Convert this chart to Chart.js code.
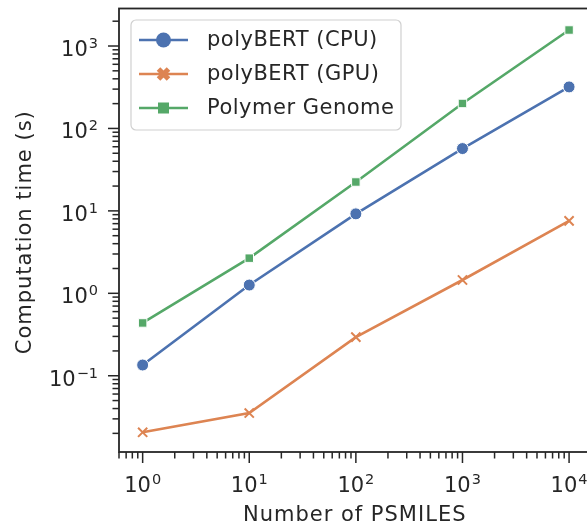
<!DOCTYPE html>
<html>
<head>
<meta charset="utf-8">
<script src="https://cdn.jsdelivr.net/npm/chart.js@4"></script>
<style>
  html, body { margin: 0; padding: 0; background: #fff; overflow: hidden; }
  #wrap { width: 587px; height: 526px; overflow: hidden; }
</style>
</head>
<body>
<div id="wrap"><canvas id="chart" width="600" height="526"></canvas></div>
<script>
// data
const numSmiles = [1, 10, 100, 1000, 10000];
const cpuTimes = [0.135, 1.26, 9.2, 57, 319];
const gpuTimes = [0.0206, 0.0353, 0.294, 1.45, 7.57];
const genomeTimes = [0.437, 2.67, 22.4, 201, 1563];
const seriesNames = ["polyBERT (CPU)", "polyBERT (GPU)", "Polymer Genome"];
const xTickExps = ["0", "1", "2", "3", "4"];
const yTickExps = ["\u22121", "0", "1", "2", "3"];
const xTitle = "Number of PSMILES";
const yTitle = "Computation time (s)";

const INK = "#262626";
const FONT = "DejaVu Sans";
const colors = ["#4c72b0", "#dd8452", "#55a868"];

function pts(ys) {
    return numSmiles.map((x, i) => ({ x: x, y: ys[i] }));
}

// =====================
// axes, ticks, labels, legend
// =====================
const framePlugin = {
    id: "frame",
    afterDatasetsDraw(chart) {
        const ctx = chart.ctx;
        const a = chart.chartArea;
        const xs = chart.scales.x;
        const ys = chart.scales.y;
        ctx.save();
        ctx.strokeStyle = INK;
        ctx.fillStyle = INK;

        // spines
        ctx.lineWidth = 1.8;
        ctx.strokeRect(a.left, a.top, a.right - a.left, a.bottom - a.top);

        // ticks (major + minor)
        ctx.lineWidth = 1.5;
        for (let k = -3; k <= 5; k++) {
            for (let m = 1; m <= 9; m++) {
                const v = m * Math.pow(10, k);
                const len = m === 1 ? 11 : 6.5;
                if (v >= xs.min && v <= xs.max) {
                    const px = xs.getPixelForValue(v);
                    ctx.beginPath();
                    ctx.moveTo(px, a.bottom);
                    ctx.lineTo(px, a.bottom + len);
                    ctx.stroke();
                }
                if (v >= ys.min && v <= ys.max) {
                    const py = ys.getPixelForValue(v);
                    ctx.beginPath();
                    ctx.moveTo(a.left, py);
                    ctx.lineTo(a.left - len, py);
                    ctx.stroke();
                }
            }
        }

        // tick labels 10^n
        ctx.letterSpacing = "0px";
        const big = "21px '" + FONT + "'";
        const small = "14.5px '" + FONT + "'";
        ctx.textBaseline = "alphabetic";
        xTickExps.forEach(e => {
            const v = Math.pow(10, parseInt(e.replace("\u2212", "-")));
            const px = xs.getPixelForValue(v);
            ctx.font = big;
            const w1 = ctx.measureText("10").width;
            ctx.font = small;
            const w2 = ctx.measureText(e).width;
            const x0 = px - (w1 + w2 + 1) / 2;
            ctx.textAlign = "left";
            ctx.font = big;
            ctx.fillText("10", x0, 492);
            ctx.font = small;
            ctx.fillText(e, x0 + w1 + 1, 484);
        });
        yTickExps.forEach(e => {
            const v = Math.pow(10, parseInt(e.replace("\u2212", "-")));
            const py = ys.getPixelForValue(v);
            ctx.font = big;
            const w1 = ctx.measureText("10").width;
            ctx.font = small;
            const w2 = ctx.measureText(e).width;
            const right = a.left - 21;
            ctx.textAlign = "left";
            ctx.font = big;
            ctx.fillText("10", right - w2 - 1 - w1, py + 10);
            ctx.font = small;
            ctx.fillText(e, right - w2, py + 2);
        });

        // axis titles
        ctx.letterSpacing = "1px";
        ctx.font = big;
        ctx.textAlign = "center";
        ctx.fillText(xTitle, (a.left + a.right) / 2, 521);
        ctx.save();
        ctx.translate(31, (a.top + a.bottom) / 2 + 2);
        ctx.rotate(-Math.PI / 2);
        ctx.fillText(yTitle, 0, 0);
        ctx.restore();

        // legend
        const lx = 131, ly = 20, lw = 270, lh = 110;
        ctx.beginPath();
        ctx.roundRect(lx, ly, lw, lh, 5);
        ctx.fillStyle = "rgba(255,255,255,0.8)";
        ctx.fill();
        ctx.strokeStyle = "#d0d0d0";
        ctx.lineWidth = 1.2;
        ctx.stroke();
        ctx.letterSpacing = "0.5px";
        const rows = [40, 74, 108];
        chart.data.datasets.forEach((ds, i) => {
            const y = rows[i];
            ctx.strokeStyle = ds.borderColor;
            ctx.lineWidth = 2.6;
            ctx.beginPath();
            ctx.moveTo(139, y);
            ctx.lineTo(188, y);
            ctx.stroke();
            const cx = 163.5;
            if (i === 0) {
                ctx.beginPath();
                ctx.arc(cx, y, 7.5, 0, Math.PI * 2);
                ctx.fillStyle = ds.borderColor;
                ctx.fill();
            } else if (i === 1) {
                ctx.lineWidth = 5;
                ctx.beginPath();
                ctx.moveTo(cx - 5, y - 5); ctx.lineTo(cx + 5, y + 5);
                ctx.moveTo(cx - 5, y + 5); ctx.lineTo(cx + 5, y - 5);
                ctx.stroke();
            } else {
                ctx.fillStyle = ds.borderColor;
                ctx.fillRect(cx - 5.5, y - 5.5, 11, 11);
            }
            ctx.fillStyle = INK;
            ctx.textAlign = "left";
            ctx.textBaseline = "middle";
            ctx.font = big;
            ctx.fillText(ds.label, 207, y + 1);
        });
        ctx.restore();
    }
};

new Chart(document.getElementById("chart"), {
    type: "line",
    data: {
        datasets: [
            {
                label: seriesNames[0],
                data: pts(cpuTimes),
                borderColor: colors[0],
                backgroundColor: colors[0],
                pointStyle: "circle",
                pointRadius: 6,
                pointBorderColor: "#fff",
                pointBorderWidth: 1
            },
            {
                label: seriesNames[1],
                data: pts(gpuTimes),
                borderColor: colors[1],
                backgroundColor: colors[1],
                pointStyle: "crossRot",
                pointRadius: 6.5,
                pointBorderColor: colors[1],
                pointBorderWidth: 2
            },
            {
                label: seriesNames[2],
                data: pts(genomeTimes),
                borderColor: colors[2],
                backgroundColor: colors[2],
                pointStyle: "rect",
                pointRadius: 6,
                pointBorderColor: "#fff",
                pointBorderWidth: 1
            }
        ]
    },
    options: {
        responsive: false,
        animation: false,
        layout: { padding: { left: 119, top: 7, right: 9.6, bottom: 74 } },
        elements: { line: { borderWidth: 2.6, tension: 0 } },
        plugins: { legend: { display: false }, tooltip: { enabled: false } },
        scales: {
            x: { type: "logarithmic", display: false, min: Math.pow(10, -0.2), max: Math.pow(10, 4.2) },
            y: { type: "logarithmic", display: false, min: Math.pow(10, -1.925), max: Math.pow(10, 3.455) }
        }
    },
    plugins: [framePlugin]
});
</script>
</body>
</html>
